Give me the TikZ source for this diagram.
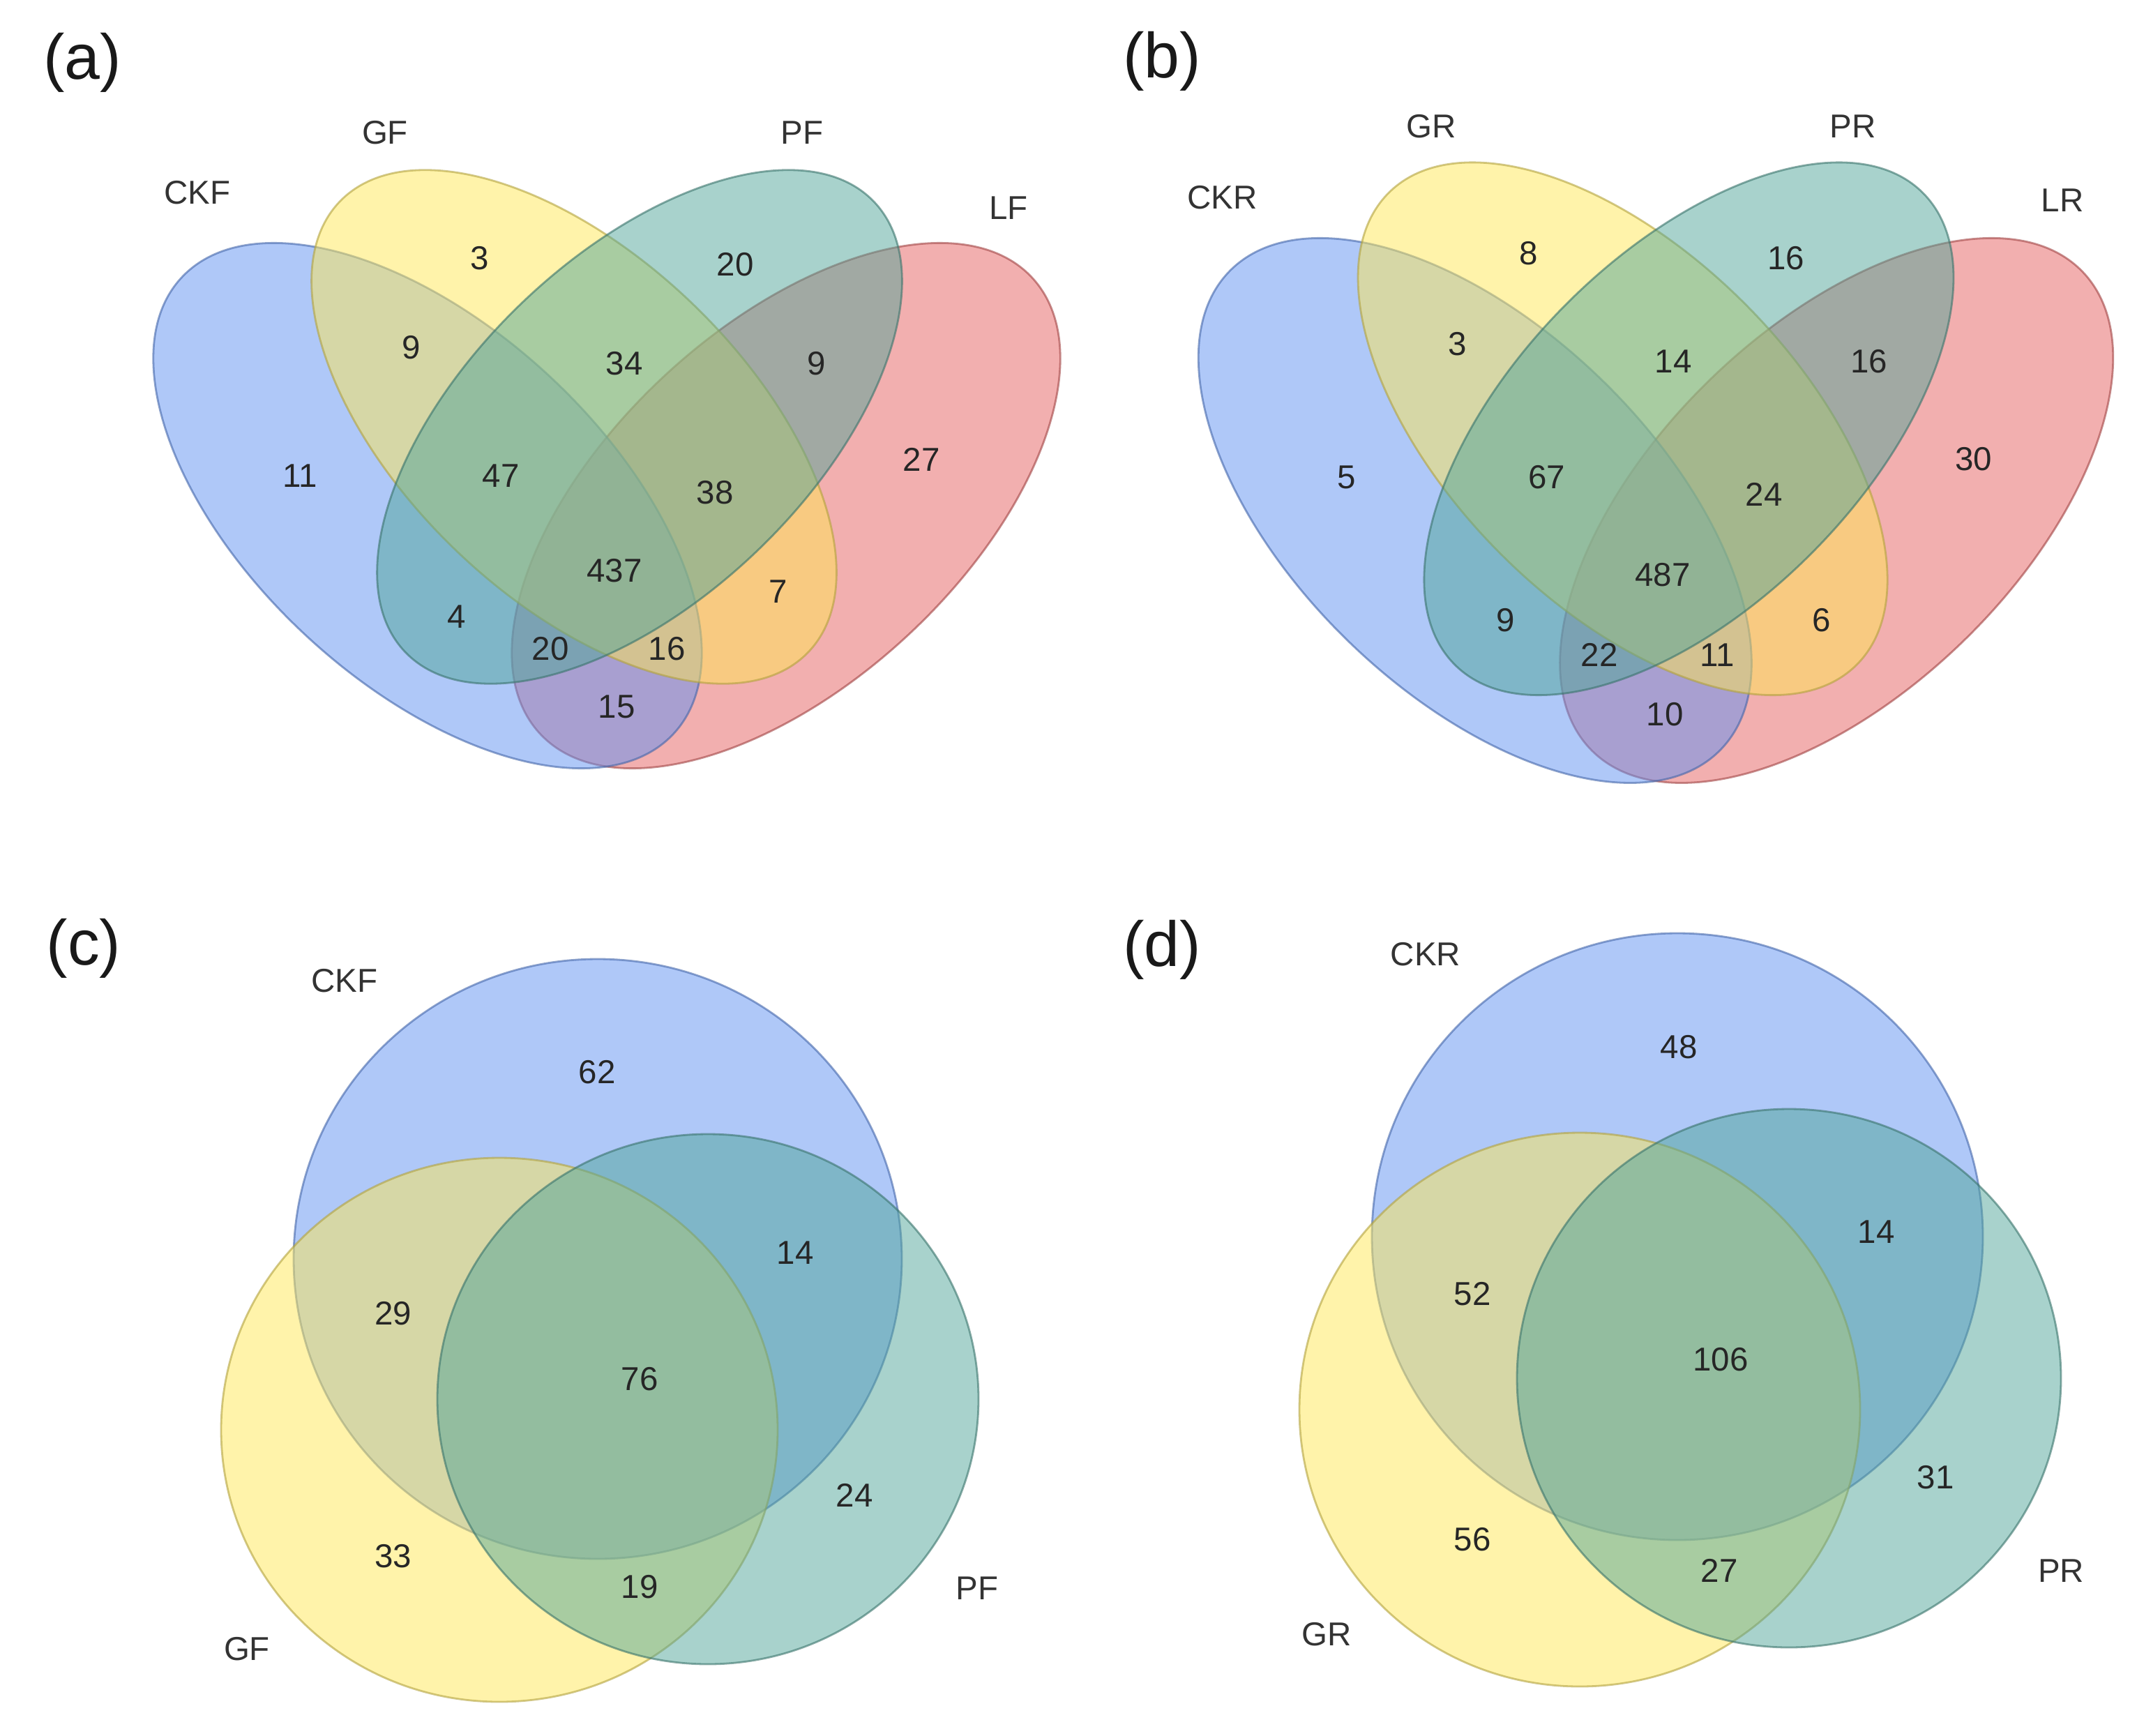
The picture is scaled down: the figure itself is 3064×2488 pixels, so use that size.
\documentclass[tikz,border=0pt]{standalone}
\usepackage{fontspec}
\setmainfont{Liberation Sans}
\usepackage{tikz}

\definecolor{ckblue}{RGB}{95,145,241}
\definecolor{gyellow}{RGB}{255,231,85}
\definecolor{pteal}{RGB}{81,165,153}
\definecolor{lred}{RGB}{229,95,95}

\begin{document}
\begin{tikzpicture}[x=0.01cm,y=-0.01cm,
  venn/.style={draw=#1!70!black,fill=#1,fill opacity=0.5,draw opacity=0.6,line width=0.8pt},
  num/.style={inner sep=0pt,text=black!85,font=\fontsize{13.5}{16}\selectfont},
  setname/.style={num,text=black!80},
  panel/.style={inner sep=0pt,text=black!90,font=\fontsize{26}{30}\selectfont}]
  \useasboundingbox (0,0) rectangle (3064,2488);

  %--- (a) four sets, F ---
  \node[panel] (pa) at (118,90) {(a)};
  \begin{scope}[shift={(870,673)}]
    \draw[venn=lred]    [rotate around={42.8:(257,52)}]   (257,52)  ellipse [x radius=481, y radius=255];
    \draw[venn=ckblue]  [rotate around={-42.8:(-257,52)}] (-257,52) ellipse [x radius=481, y radius=255];
    \draw[venn=gyellow] [rotate around={-43.9:(-47,-61)}] (-47,-61) ellipse [x radius=466, y radius=245];
    \draw[venn=pteal]   [rotate around={43.9:(47,-61)}]   (47,-61)  ellipse [x radius=466, y radius=245];

    \node[setname] (aCKF) at (-587,-397) {CKF};
    \node[setname] (aGF)  at (-318,-483) {GF};
    \node[setname] (aPF)  at (280,-483)  {PF};
    \node[setname] (aLF)  at (576,-375)  {LF};

    \node[num] (ag)    at (-182,-303) {3};
    \node[num] (ap)    at (184,-294)  {20};
    \node[num] (acg)   at (-280,-175) {9};
    \node[num] (agp)   at (25,-152)   {34};
    \node[num] (apl)   at (301,-152)  {9};
    \node[num] (ac)    at (-440,9)    {11};
    \node[num] (acgp)  at (-152,9)    {47};
    \node[num] (agpl)  at (155,33)    {38};
    \node[num] (al)    at (451,-14)   {27};
    \node[num] (aall)  at (11,145)    {437};
    \node[num] (acp)   at (-215,211)  {4};
    \node[num] (agl)   at (246,175)   {7};
    \node[num] (acpl)  at (-81,257)   {20};
    \node[num] (acgl)  at (86,257)    {16};
    \node[num] (acl)   at (14,340)    {15};
  \end{scope}

  %--- (b) four sets, R ---
  \node[panel] (pb) at (1666,88) {(b)};
  \begin{scope}[shift={(2374,678)},xscale=1.0085,yscale=1.037]
    \draw[venn=lred]    [rotate around={42.8:(257,52)}]   (257,52)  ellipse [x radius=481, y radius=255];
    \draw[venn=ckblue]  [rotate around={-42.8:(-257,52)}] (-257,52) ellipse [x radius=481, y radius=255];
    \draw[venn=gyellow] [rotate around={-43.9:(-47,-61)}] (-47,-61) ellipse [x radius=466, y radius=245];
    \draw[venn=pteal]   [rotate around={43.9:(47,-61)}]   (47,-61)  ellipse [x radius=466, y radius=245];

    \node[setname] (bCKR) at (-616,-381) {CKR};
    \node[setname] (bGR)  at (-319,-479) {GR};
    \node[setname] (bPR)  at (280,-479)  {PR};
    \node[setname] (bLR)  at (578,-377)  {LR};

    \node[num] (bg)    at (-181,-304) {8};
    \node[num] (bp)    at (185,-297)  {16};
    \node[num] (bcg)   at (-282,-178) {3};
    \node[num] (bgp)   at (25,-154)   {14};
    \node[num] (bpl)   at (303,-154)  {16};
    \node[num] (bc)    at (-440,6)    {5};
    \node[num] (bcgp)  at (-155,6)    {67};
    \node[num] (bgpl)  at (154,30)    {24};
    \node[num] (bl)    at (452,-19)   {30};
    \node[num] (ball)  at (10,141)    {487};
    \node[num] (bcp)   at (-214,204)  {9};
    \node[num] (bgl)   at (236,204)   {6};
    \node[num] (bcpl)  at (-80,252)   {22};
    \node[num] (bcgl)  at (87,252)    {11};
    \node[num] (bcl)   at (13,334)    {10};
  \end{scope}

  %--- (c) three sets, F ---
  \node[panel] (pc) at (120,1360) {(c)};
  \draw[venn=ckblue]  (857,1805)  ellipse [x radius=436, y radius=430];
  \draw[venn=gyellow] (716,2050)  ellipse [x radius=399, y radius=390];
  \draw[venn=pteal]   (1015,2006) ellipse [x radius=388, y radius=380];

  \node[setname] (cCKF) at (494,1406) {CKF};
  \node[setname] (cGF)  at (354,2364) {GF};
  \node[setname] (cPF)  at (1401,2277) {PF};

  \node[num] (cc)   at (856,1537)  {62};
  \node[num] (ccp)  at (1140,1796) {14};
  \node[num] (ccg)  at (564,1883)  {29};
  \node[num] (call) at (917,1977)  {76};
  \node[num] (cp)   at (1225,2144) {24};
  \node[num] (cg)   at (564,2231)  {33};
  \node[num] (cgp)  at (917,2275)  {19};

  %--- (d) three sets, R ---
  \node[panel] (pd) at (1666,1362) {(d)};
  \draw[venn=ckblue]  (2405,1773) ellipse [x radius=438, y radius=435];
  \draw[venn=gyellow] (2265,2021) ellipse [x radius=402, y radius=397];
  \draw[venn=pteal]   (2565,1976) ellipse [x radius=390, y radius=386];

  \node[setname] (dCKR) at (2044,1368) {CKR};
  \node[setname] (dGR)  at (1902,2343) {GR};
  \node[setname] (dPR)  at (2955,2252) {PR};

  \node[num] (dc)   at (2407,1501) {48};
  \node[num] (dcp)  at (2690,1766) {14};
  \node[num] (dcg)  at (2111,1855) {52};
  \node[num] (dall) at (2467,1949) {106};
  \node[num] (dp)   at (2775,2118) {31};
  \node[num] (dg)   at (2111,2207) {56};
  \node[num] (dgp)  at (2465,2252) {27};
\end{tikzpicture}
\end{document}
